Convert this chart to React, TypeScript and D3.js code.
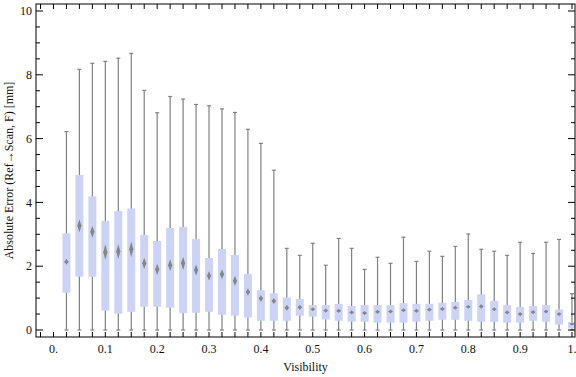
import React from "react";
import * as d3 from "d3";

const visibility = [0.025,0.05,0.075,0.1,0.125,0.15,0.175,0.2,0.225,0.25,0.275,0.3,0.325,0.35,0.375,0.4,0.425,0.45,0.475,0.5,0.525,0.55,0.575,0.6,0.625,0.65,0.675,0.7,0.725,0.75,0.775,0.8,0.825,0.85,0.875,0.9,0.925,0.95,0.975,1.0];
const whiskerMin = visibility.map(() => 0);
const whiskerMax = [6.22,8.17,8.36,8.42,8.52,8.67,7.51,6.81,7.32,7.24,7.07,7.03,6.93,6.82,6.29,5.85,5.01,2.56,2.34,2.72,2.03,2.87,2.56,1.90,2.28,2.09,2.91,2.15,2.47,2.31,2.62,3.01,2.53,2.47,2.34,2.75,2.40,2.75,2.84,1.14];
const q3 = [3.03,4.86,4.19,3.42,3.73,3.81,2.98,2.79,3.20,3.23,2.85,2.26,2.54,2.35,1.76,1.25,1.15,1.02,0.97,0.78,0.78,0.82,0.75,0.78,0.78,0.78,0.84,0.82,0.82,0.85,0.88,0.94,1.12,0.91,0.78,0.72,0.75,0.78,0.64,0.25];
const q1 = [1.17,1.67,1.67,0.61,0.51,0.57,0.73,0.73,0.70,0.53,0.54,0.57,0.48,0.45,0.39,0.29,0.29,0.29,0.45,0.42,0.33,0.29,0.26,0.26,0.23,0.23,0.23,0.26,0.29,0.32,0.32,0.29,0.26,0.26,0.23,0.23,0.29,0.26,0.17,0.05];
const median = [2.14,3.27,3.08,2.44,2.46,2.53,2.09,1.90,2.03,2.09,1.88,1.70,1.75,1.54,1.19,0.99,0.91,0.70,0.71,0.65,0.61,0.60,0.55,0.53,0.57,0.58,0.62,0.60,0.64,0.66,0.70,0.73,0.74,0.65,0.55,0.50,0.56,0.58,0.50,0.19];
const notch = [0.08,0.19,0.17,0.23,0.22,0.23,0.16,0.16,0.17,0.19,0.16,0.13,0.14,0.14,0.10,0.09,0.08,0.08,0.07,0.05,0.05,0.05,0.05,0.05,0.05,0.05,0.05,0.05,0.05,0.05,0.05,0.05,0.06,0.05,0.05,0.05,0.05,0.05,0.05,0.03];

const xTickLabels = ["0.","0.1","0.2","0.3","0.4","0.5","0.6","0.7","0.8","0.9","1."];
const xTickValues = [0,0.1,0.2,0.3,0.4,0.5,0.6,0.7,0.8,0.9,1.0];
const yTickValues = [0,2,4,6,8,10];

const W = 576, H = 377;
const L = 36, R = 575, T = 4, B = 337;

export default function App() {
  const x = d3.scaleLinear().domain([-0.0337, 1.0058]).range([L, R]);
  const y = d3.scaleLinear().domain([-0.219, 10.219]).range([B, T]);
  const boxW = 8;
  const capW = 4;
  const minorX = d3.range(-1, 41).map(i => i * 0.025);
  const minorY = d3.range(0, 21).map(i => i * 0.5);
  const font = "'Liberation Serif', 'Times New Roman', serif";

  return (
    <svg width={W} height={H} style={{ position: "absolute", left: 0, top: 0, background: "#fff" }}>
      <defs>
        <clipPath id="plot"><rect x={L} y={T} width={R - L} height={B - T} /></clipPath>
      </defs>
      <g clipPath="url(#plot)">
        {visibility.map((v, i) => {
          const cx = x(v);
          return (
            <g key={i}>
              <line x1={cx} x2={cx} y1={y(whiskerMin[i])} y2={y(whiskerMax[i])} stroke="#808080" strokeWidth={1.2} />
              <line x1={cx - capW / 2} x2={cx + capW / 2} y1={y(whiskerMax[i])} y2={y(whiskerMax[i])} stroke="#808080" strokeWidth={1.2} />
              <line x1={cx - capW / 2} x2={cx + capW / 2} y1={y(whiskerMin[i])} y2={y(whiskerMin[i])} stroke="#808080" strokeWidth={1.2} />
              <rect x={cx - boxW / 2} width={boxW} y={y(q3[i])} height={y(q1[i]) - y(q3[i])} fill="#ccd3f5" />
              <path
                d={`M${cx},${y(median[i] + notch[i]) - 0.5} L${cx + 2},${y(median[i])} L${cx},${y(median[i] - notch[i]) + 0.5} L${cx - 2},${y(median[i])} Z`}
                fill="#858585" />
              <line x1={cx - 2} x2={cx + 2} y1={y(median[i])} y2={y(median[i])} stroke="#858585" strokeWidth={1.2} />
            </g>
          );
        })}
      </g>
      <rect x={L} y={T} width={R - L} height={B - T} fill="none" stroke="#000" strokeWidth={1} />
      {minorX.map((v, i) => (
        <g key={"xt" + i}>
          <line x1={x(v)} x2={x(v)} y1={B} y2={B - 5} stroke="#000" strokeWidth={1} />
          <line x1={x(v)} x2={x(v)} y1={T} y2={T + 5} stroke="#000" strokeWidth={1} />
        </g>
      ))}
      {minorY.map((v, i) => {
        const major = Math.abs(v % 2) < 1e-9;
        const len = major ? 7 : 4;
        return (
          <g key={"yt" + i}>
            <line x1={L} x2={L + len} y1={y(v)} y2={y(v)} stroke="#000" strokeWidth={1} />
            <line x1={R} x2={R - len} y1={y(v)} y2={y(v)} stroke="#000" strokeWidth={1} />
          </g>
        );
      })}
      {yTickValues.map(v => (
        <text key={"yl" + v} x={32} y={y(v)} dy="0.35em" textAnchor="end" fontFamily={font} fontSize={12} fill="#111">{v}</text>
      ))}
      {xTickValues.map((v, i) => (
        <text key={"xl" + i} x={x(v)} y={353} textAnchor="middle" fontFamily={font} fontSize={12} fill="#111">{xTickLabels[i]}</text>
      ))}
      <text x={(L + R) / 2} y={371} textAnchor="middle" fontFamily={font} fontSize={12} fill="#111">Visibility</text>
      <text transform={`translate(13,${(T + B) / 2}) rotate(-90)`} textAnchor="middle" fontFamily={font} fontSize={12} fill="#111">Absolute Error (Ref→Scan, F) [mm]</text>
    </svg>
  );
}
